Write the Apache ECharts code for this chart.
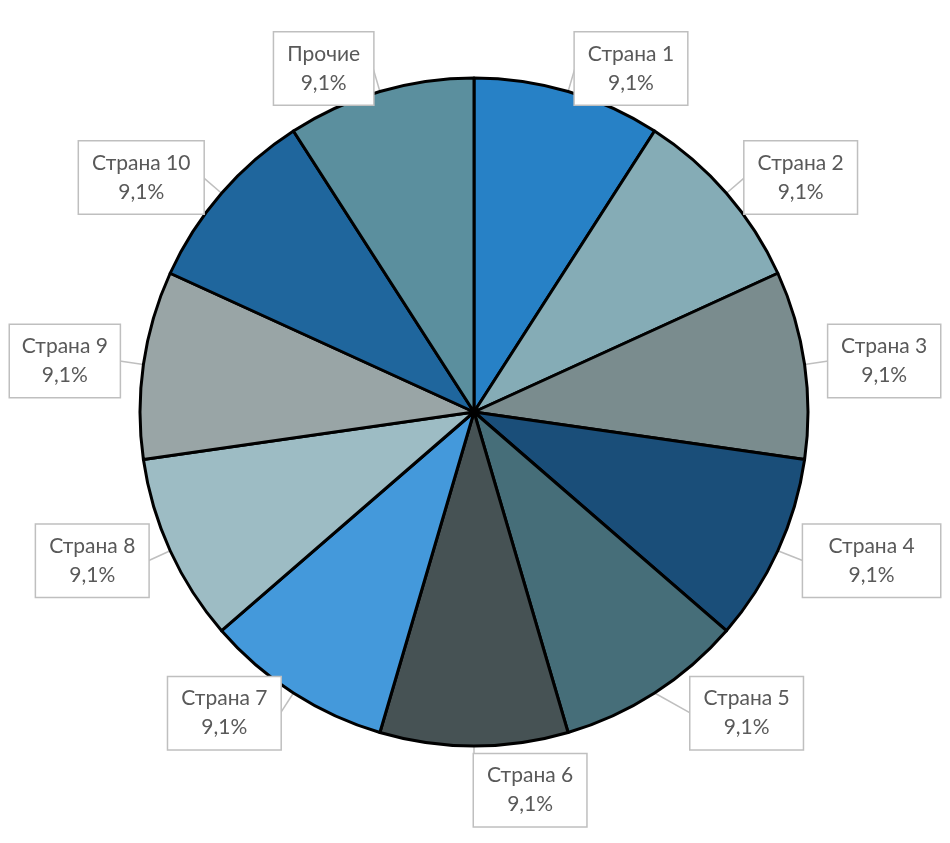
<!DOCTYPE html>
<html><head><meta charset="utf-8">
<script src="https://cdn.jsdelivr.net/npm/echarts@6/dist/echarts.min.js"></script>
<style>html,body{margin:0;padding:0;background:#fff;}#c{width:950px;height:843px;}</style>
</head><body><div id="c"></div>
<script>
var categories = ['Страна 1','Страна 2','Страна 3','Страна 4','Страна 5','Страна 6','Страна 7','Страна 8','Страна 9','Страна 10','Прочие'];
var values = [1,1,1,1,1,1,1,1,1,1,1];
var colors = ['#2781C6','#85ACB6','#7A8C8E','#1A4E79','#466E79','#465254','#4499DB','#9DBCC4','#99A5A6','#1F669D','#5B8F9E'];
var total = values.reduce(function(a,b){return a+b;},0);
var chart = echarts.init(document.getElementById('c'));
chart.setOption({
  animation:false,
  series:[{
    type:'pie',
    center:[474,412],
    radius:[0,334],
    startAngle:90,
    clockwise:true,
    data: categories.map(function(n,i){return {name:n,value:values[i],itemStyle:{color:colors[i]}};}),
    itemStyle:{borderColor:'#000',borderWidth:3},
    label:{
      show:true,position:'outside',overflow:'none',edgeDistance:2,
      formatter:function(p){return '{a|'+p.name+'}\n{a|'+(p.value/total*100).toFixed(1).replace('.',',')+'%}';},
      rich:{a:{fontFamily:'Lato',fontSize:21,color:'#595959',lineHeight:29,align:'center'}},
      backgroundColor:'#fff',borderColor:'#BFBFBF',borderWidth:1.5,padding:[7,13,7,13],
      distanceToLabelLine:0
    },
    labelLine:{show:true,length:24,length2:0,lineStyle:{color:'#BFBFBF',width:1.5}}
  }]
});
</script></body></html>
